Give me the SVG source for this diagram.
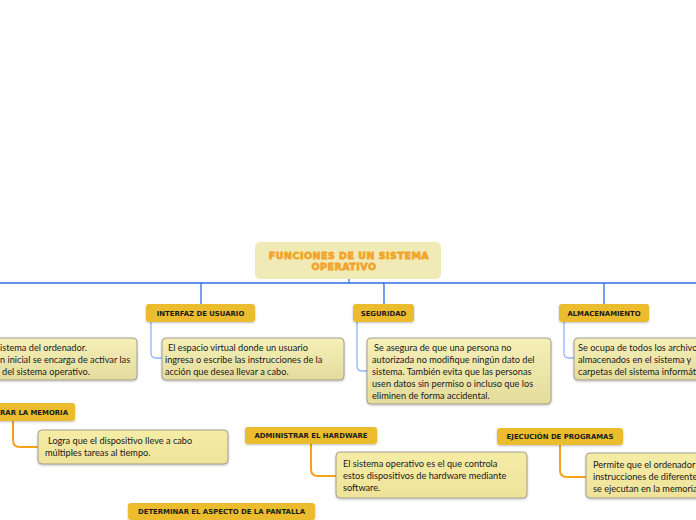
<svg xmlns="http://www.w3.org/2000/svg" width="696" height="520" viewBox="0 0 696 520">
<defs>
<linearGradient id="dg" x1="0" y1="0" x2="0" y2="1"><stop offset="0" stop-color="#f6f0b8"/><stop offset="1" stop-color="#e4dc9c"/></linearGradient>
<linearGradient id="dg2" x1="0" y1="0" x2="0" y2="1"><stop offset="0" stop-color="#f5eca6"/><stop offset="1" stop-color="#efe39a"/></linearGradient>
<filter id="sh" x="-10%" y="-20%" width="120%" height="150%"><feDropShadow dx="0" dy="1" stdDeviation="0.8" flood-color="#000" flood-opacity="0.25"/></filter>
</defs>
<style>
.main{fill:#efeab6}
.title{font-family:"DejaVu Sans",sans-serif;font-weight:bold;font-size:9.5px;fill:#f2a42e;stroke:#f2a42e;stroke-width:0.8;letter-spacing:0.5px}
.gold{fill:#ebbd2f;filter:url(#sh)}
.lbl{font-family:"DejaVu Sans",sans-serif;font-weight:bold;font-size:6.9px;fill:#1a1a1a}
.desc{fill:url(#dg);stroke:#a39e92;stroke-width:1;filter:url(#sh)}
.desc2{fill:url(#dg2);stroke:#a39e92;stroke-width:1;filter:url(#sh)}
.txt{font-family:Lato,"Liberation Sans",sans-serif;font-size:9.2px;fill:#1a1a1a}
.blue{fill:none;stroke:#2f6ae8;stroke-width:1.3}
.lblue{fill:none;stroke:#93b2fa;stroke-width:1.3}
.orange{fill:none;stroke:#f7a11a;stroke-width:2}
</style>
<g id="connectors">
<path class="blue" d="M0 283 H696"/>
<path class="blue" d="M349 279 V283"/>
<path class="blue" d="M201 283 V304"/>
<path class="blue" d="M383 283 Q384 283 384 285 V304"/>
<path class="blue" d="M604 283 V304"/>
<path class="lblue" d="M151 322 V353 Q151 358 156 358 H162"/>
<path class="lblue" d="M357 322 V366 Q357 371 362 371 H367"/>
<path class="lblue" d="M564 322 V353 Q564 358 569 358 H574"/>
<path class="orange" d="M13 421 V440 Q13 447 20 447 H38"/>
<path class="orange" d="M311 444 V469 Q311 476 318 476 H336"/>
<path class="orange" d="M560 445 V470 Q560 477 567 477 H586"/>
</g>
<g id="central">
<rect class="main" x="255" y="242" width="186" height="37" rx="5"/>
<text class="title" x="349" y="259" text-anchor="middle">FUNCIONES DE UN SISTEMA</text>
<text class="title" x="344" y="269.5" text-anchor="middle">OPERATIVO</text>
</g>
<g id="left-desc">
<rect class="desc" x="-20" y="338" width="157" height="42" rx="4"/>
<text class="txt" x="0" y="351">istema del ordenador.</text>
<text class="txt" x="0" y="363">n inicial se encarga de activar las</text>
<text class="txt" x="2" y="375">del sistema operativo.</text>
</g>
<g id="interfaz">
<rect class="gold" x="146" y="304" width="109" height="18" rx="3"/>
<text class="lbl" x="200.5" y="315.5" text-anchor="middle">INTERFAZ DE USUARIO</text>
</g>
<g id="interfaz-desc">
<rect class="desc" x="162" y="338" width="182" height="42" rx="4"/>
<text class="txt" x="168" y="351">El espacio virtual donde un usuario</text>
<text class="txt" x="165" y="363">ingresa o escribe las instrucciones de la</text>
<text class="txt" x="165" y="375">acción que desea llevar a cabo.</text>
</g>
<g id="seguridad">
<rect class="gold" x="353" y="304" width="61" height="18" rx="3"/>
<text class="lbl" x="383.5" y="315.5" text-anchor="middle">SEGURIDAD</text>
</g>
<g id="seguridad-desc">
<rect class="desc" x="367" y="338" width="184" height="66" rx="4"/>
<text class="txt" x="374" y="351">Se asegura de que una persona no</text>
<text class="txt" x="372" y="363">autorizada no modifique ningún dato del</text>
<text class="txt" x="372" y="375">sistema. También evita que las personas</text>
<text class="txt" x="372" y="387">usen datos sin permiso o incluso que los</text>
<text class="txt" x="372" y="399">eliminen de forma accidental.</text>
</g>
<g id="almacenamiento">
<rect class="gold" x="559" y="304" width="90" height="18" rx="3"/>
<text class="lbl" x="604" y="315.5" text-anchor="middle">ALMACENAMIENTO</text>
</g>
<g id="almacenamiento-desc">
<rect class="desc" x="574" y="338" width="140" height="42" rx="4"/>
<text class="txt" x="578" y="351">Se ocupa de todos los archivos</text>
<text class="txt" x="578" y="363">almacenados en el sistema y</text>
<text class="txt" x="578" y="375">carpetas del sistema informático</text>
</g>
<g id="memoria">
<rect class="gold" x="-40" y="403" width="115" height="18" rx="3"/>
<text class="lbl" x="68" y="414.5" text-anchor="end">RAR LA MEMORIA</text>
</g>
<g id="memoria-desc">
<rect class="desc2" x="38" y="430" width="190" height="34" rx="4"/>
<text class="txt" x="48" y="444">Logra que el dispositivo lleve a cabo</text>
<text class="txt" x="45" y="456">múltiples tareas al tiempo.</text>
</g>
<g id="hardware">
<rect class="gold" x="245" y="427" width="132" height="17" rx="3"/>
<text class="lbl" x="311" y="438" text-anchor="middle">ADMINISTRAR EL HARDWARE</text>
</g>
<g id="hardware-desc">
<rect class="desc2" x="336" y="452" width="191" height="46" rx="4"/>
<text class="txt" x="343" y="467">El sistema operativo es el que controla</text>
<text class="txt" x="343" y="479">estos dispositivos de hardware mediante</text>
<text class="txt" x="343" y="491">software.</text>
</g>
<g id="ejecucion">
<rect class="gold" x="497" y="428" width="126" height="17" rx="3"/>
<text class="lbl" x="560" y="439" text-anchor="middle">EJECUCIÓN DE PROGRAMAS</text>
</g>
<g id="ejecucion-desc">
<rect class="desc2" x="586" y="453" width="130" height="45" rx="4"/>
<text class="txt" x="593" y="468">Permite que el ordenador</text>
<text class="txt" x="593" y="480">instrucciones de diferentes</text>
<text class="txt" x="593" y="492">se ejecutan en la memoria</text>
</g>
<g id="pantalla">
<rect class="gold" x="128" y="503" width="187" height="17" rx="3"/>
<text class="lbl" x="221.5" y="514" text-anchor="middle">DETERMINAR EL ASPECTO DE LA PANTALLA</text>
</g>
</svg>
